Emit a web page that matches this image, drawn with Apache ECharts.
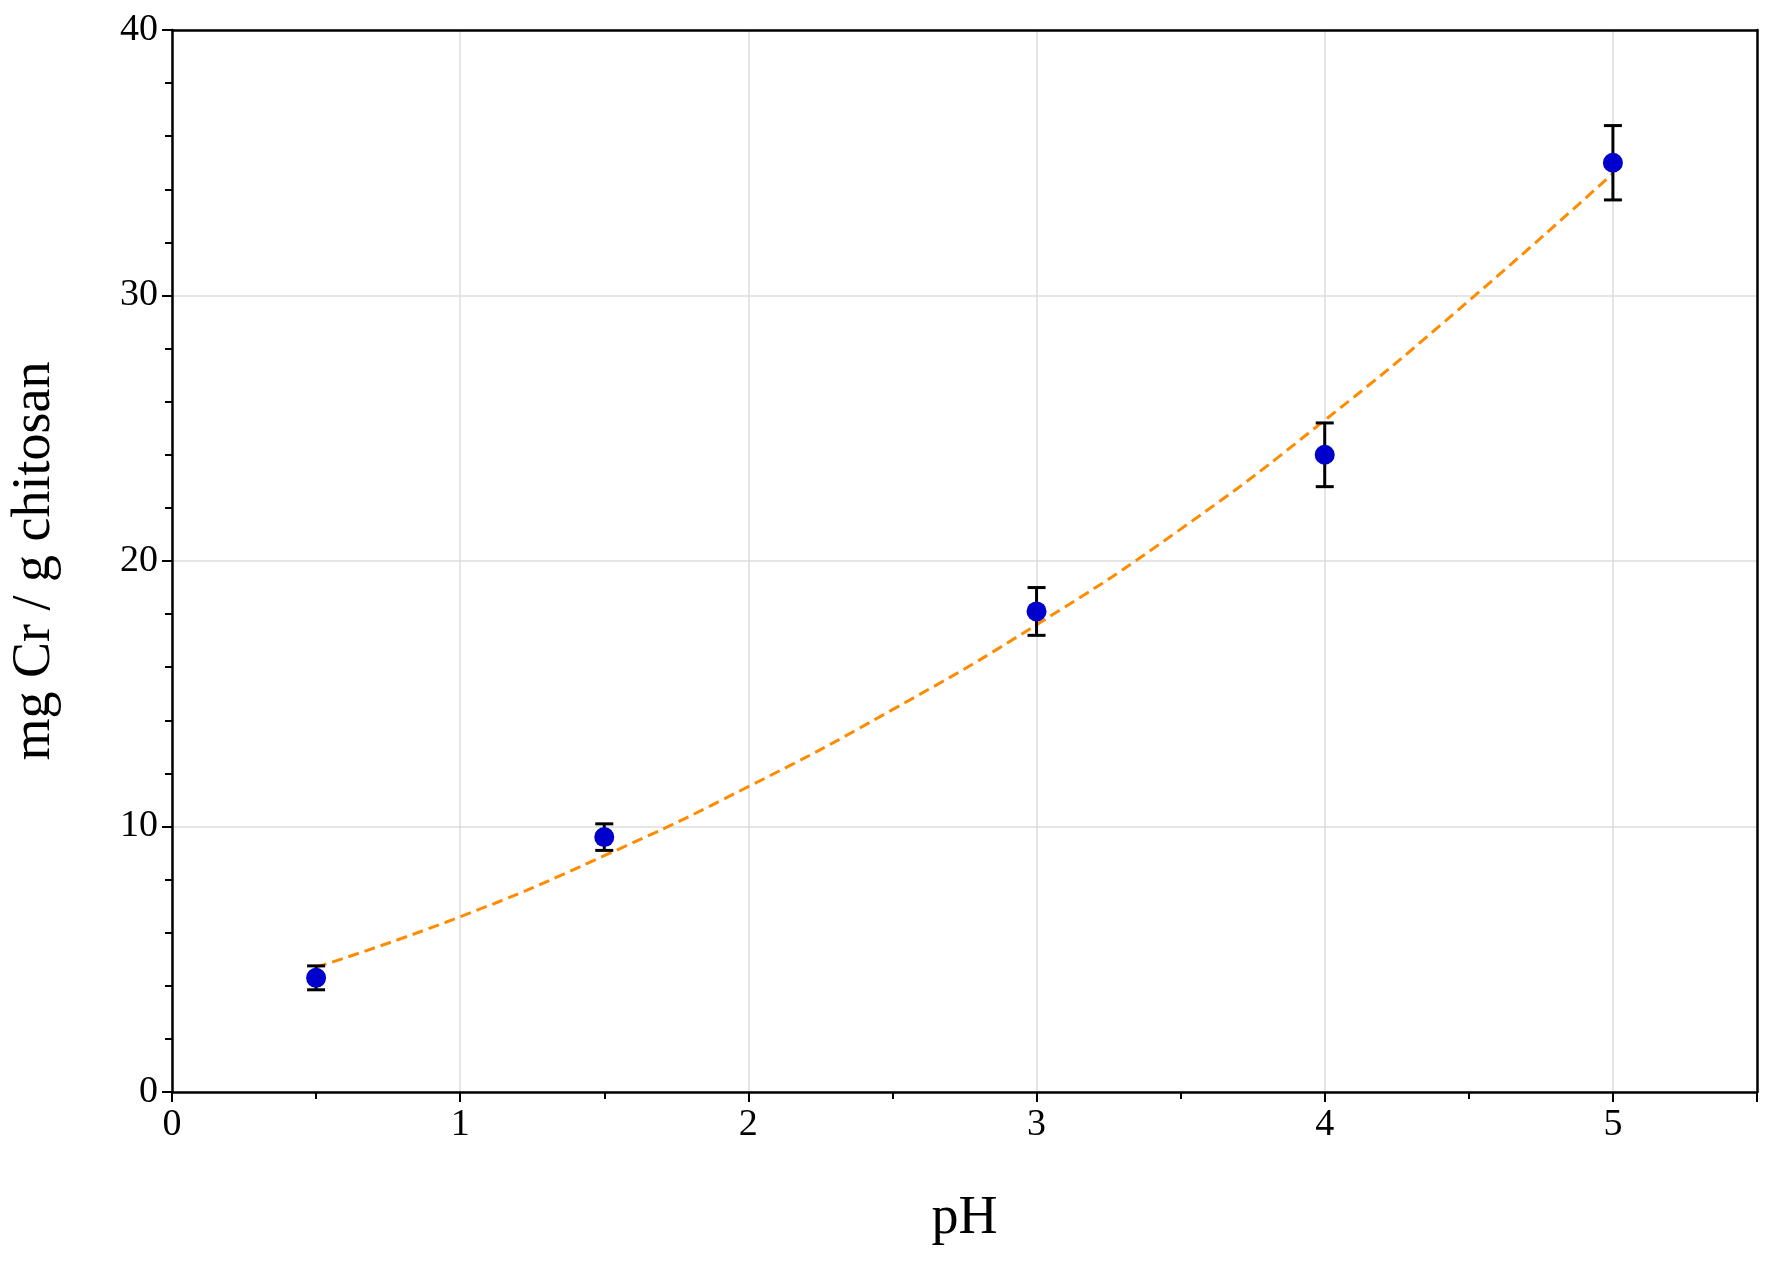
<!DOCTYPE html>
<html><head><meta charset="utf-8">
<script src="https://cdn.jsdelivr.net/npm/echarts@6/dist/echarts.min.js"></script>
<style>html,body{margin:0;background:#fff}#c{width:1771px;height:1270px}</style>
</head><body><div id="c"></div>
<script>
const phValues = [0.5, 1.5, 3, 4, 5];
const uptake = [4.3, 9.6, 18.1, 24.0, 35.0];
const errors = [0.45, 0.5, 0.9, 1.2, 1.4];
const fitX = [0.5, 1, 1.5, 2, 2.5, 3, 3.5, 4, 4.5, 5];
const fitY = [4.7, 6.6, 8.9, 11.5, 14.4, 17.6, 21.2, 25.3, 29.8, 34.6];
const font = 'Liberation Serif';
const chart = echarts.init(document.getElementById('c'));
const sideAxis = {min: 0, axisLine: {show: true, onZero: false, lineStyle: {color: '#000', width: 2.5}},
  axisTick: {show: false}, axisLabel: {show: false}, splitLine: {show: false}};
chart.setOption({
  animation: false,
  grid: {left: 166, right: 14, top: 30, bottom: 178},
  xAxis: [{type: 'value', min: 0, max: 5.5, interval: 1, name: 'pH', nameLocation: 'middle', nameGap: 100,
    nameTextStyle: {fontFamily: font, fontSize: 54, color: '#000'},
    axisLine: {onZero: false, lineStyle: {color: '#000', width: 2.5}},
    axisTick: {length: 10, lineStyle: {color: '#000', width: 2}},
    minorTick: {show: true, splitNumber: 2, length: 7, lineStyle: {color: '#000', width: 2}},
    axisLabel: {fontFamily: font, fontSize: 38, color: '#000', margin: 14, formatter: v => (v % 1 === 0 && v <= 5) ? v : ''},
    splitLine: {show: true, lineStyle: {color: '#dcdcdc', width: 1.5}}},
    Object.assign({type: 'value', position: 'top', max: 5.5}, sideAxis)],
  yAxis: [{type: 'value', min: 0, max: 40, interval: 10, name: 'mg Cr / g chitosan', nameLocation: 'middle', nameGap: 110,
    nameTextStyle: {fontFamily: font, fontSize: 54, color: '#000'},
    axisLine: {onZero: false, lineStyle: {color: '#000', width: 2.5}},
    axisTick: {length: 10, lineStyle: {color: '#000', width: 2}},
    minorTick: {show: true, splitNumber: 5, length: 7, lineStyle: {color: '#000', width: 2}},
    axisLabel: {fontFamily: font, fontSize: 38, color: '#000', margin: 14},
    splitLine: {show: true, lineStyle: {color: '#dcdcdc', width: 1.5}}},
    Object.assign({type: 'value', position: 'right', max: 40}, sideAxis)],
  series: [
    {type: 'line', data: fitX.map((x, i) => [x, fitY[i]]), smooth: true, symbol: 'none',
     lineStyle: {color: '#ff8c00', width: 3, type: [11, 6]}, z: 2},
    {type: 'custom', data: phValues.map((x, i) => [x, uptake[i] - errors[i], uptake[i] + errors[i]]), z: 3,
     renderItem: (p, api) => {
       const lo = api.coord([api.value(0), api.value(1)]);
       const hi = api.coord([api.value(0), api.value(2)]);
       const w = 9, st = {stroke: '#000', lineWidth: 3};
       return {type: 'group', children: [
         {type: 'line', shape: {x1: lo[0], y1: lo[1], x2: hi[0], y2: hi[1]}, style: st},
         {type: 'line', shape: {x1: lo[0]-w, y1: lo[1], x2: lo[0]+w, y2: lo[1]}, style: st},
         {type: 'line', shape: {x1: hi[0]-w, y1: hi[1], x2: hi[0]+w, y2: hi[1]}, style: st}]};
     }},
    {type: 'scatter', data: phValues.map((x, i) => [x, uptake[i]]), symbolSize: 20,
     itemStyle: {color: '#0000cc', opacity: 1}, z: 4}
  ]
});
</script></body></html>
